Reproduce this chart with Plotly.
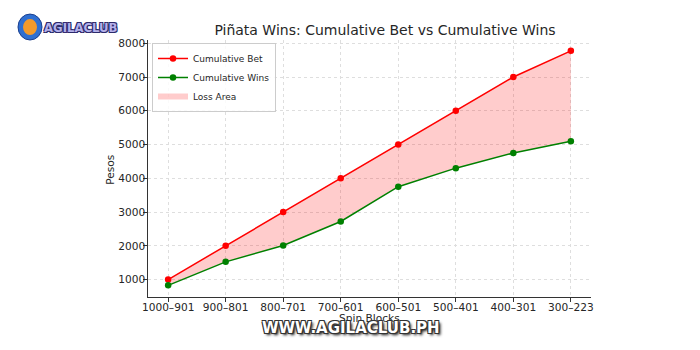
import plotly.graph_objects as go

categories = ["1000–901", "900–801", "800–701", "700–601", "600–501", "500–401", "400–301", "300–223"]
cumulative_bet = [1000, 2000, 3000, 4000, 5000, 6000, 7000, 7775]
cumulative_wins = [830, 1525, 2010, 2720, 3750, 4300, 4750, 5100]
y_ticks = [1000, 2000, 3000, 4000, 5000, 6000, 7000, 8000]

FONT = "DejaVu Sans"
TXT = "#262626"
GRID = "#dedede"

fig = go.Figure()

# Loss area: fill between wins and bet
fig.add_trace(go.Scatter(x=categories, y=cumulative_wins, mode="lines",
                         line=dict(width=0, color="rgba(0,0,0,0)"),
                         showlegend=False, hoverinfo="skip"))
fig.add_trace(go.Scatter(x=categories, y=cumulative_bet, mode="none", fill="tonexty",
                         fillcolor="rgba(255,0,0,0.2)", name="Loss Area", legendrank=3))

fig.add_trace(go.Scatter(x=categories, y=cumulative_bet, mode="lines+markers", name="Cumulative Bet",
                         line=dict(color="red", width=1.5), marker=dict(color="red", size=6.5),
                         legendrank=1))
fig.add_trace(go.Scatter(x=categories, y=cumulative_wins, mode="lines+markers", name="Cumulative Wins",
                         line=dict(color="green", width=1.5), marker=dict(color="green", size=6.5),
                         legendrank=2))

L, R, T, B = 148, 109, 40, 52.5
pw = 700 - L - R
ph = 350 - T - B

def px_x(x):
    return (x - L) / pw

def px_y(y):
    return 1 - (y - T) / ph

fig.update_layout(
    width=700, height=350,
    margin=dict(l=L, r=R, t=T, b=B, autoexpand=False),
    paper_bgcolor="white", plot_bgcolor="white",
    font=dict(family=FONT, color=TXT, size=10.6),
    title=dict(text="Piñata Wins: Cumulative Bet vs Cumulative Wins",
               font=dict(family=FONT, size=14, color=TXT),
               x=385 / 700, xanchor="center", y=1 - 30 / 350, yanchor="middle"),
    showlegend=True,
    legend=dict(x=px_x(152), y=px_y(43), xanchor="left", yanchor="top", traceorder="normal",
                bgcolor="rgba(255,255,255,0.85)", bordercolor="#cccccc", borderwidth=1,
                font=dict(family=FONT, size=9, color=TXT), tracegroupgap=0,
                itemwidth=30),
    xaxis=dict(type="category", range=[-0.35, 7.35], showline=True, linecolor="#333333", linewidth=1.2,
               ticks="outside", ticklen=3.5, tickcolor="#333333", tickwidth=1,
               showgrid=True, gridcolor=GRID, griddash="dot", gridwidth=0.8,
               tickfont=dict(family=FONT, size=10.6, color=TXT), ticklabelstandoff=-3,
               zeroline=False, mirror=False),
    yaxis=dict(range=[484, 8096], tickvals=y_ticks, showline=True, linecolor="#333333", linewidth=1.2,
               ticks="outside", ticklen=3.5, tickcolor="#333333", tickwidth=1,
               showgrid=True, gridcolor=GRID, griddash="dot", gridwidth=0.8,
               tickfont=dict(family=FONT, size=10.6, color=TXT), ticklabelstandoff=-4,
               zeroline=False, mirror=False),
)

# Axis titles
fig.add_annotation(text="Spin Blocks", xref="paper", yref="paper", x=px_x(369.5), y=px_y(319),
                   xanchor="center", yanchor="middle", showarrow=False,
                   font=dict(family=FONT, size=10.6, color=TXT))
fig.add_annotation(text="Pesos", xref="paper", yref="paper", x=px_x(110), y=px_y(170),
                   xanchor="center", yanchor="middle", showarrow=False, textangle=-90,
                   font=dict(family=FONT, size=10.6, color=TXT))

# Logo icon (approximation)
fig.add_shape(type="circle", xref="paper", yref="paper",
              x0=px_x(18), x1=px_x(42), y0=px_y(40), y1=px_y(14),
              fillcolor="#2f6fd1", line=dict(color="#1b3f8f", width=1))
fig.add_shape(type="circle", xref="paper", yref="paper",
              x0=px_x(23), x1=px_x(37), y0=px_y(35), y1=px_y(19),
              fillcolor="#f39a2b", line=dict(color="#f39a2b", width=0))
fig.add_annotation(text="<b>AGILACLUB</b>", xref="paper", yref="paper",
                   x=px_x(81), y=px_y(27), xanchor="center", yanchor="middle", showarrow=False,
                   font=dict(family="DejaVu Sans Condensed, DejaVu Sans", size=13, color="#b3b0ea",
                             shadow="1px 1px 0 #2c2a6b, -1px -1px 0 #2c2a6b, 1px -1px 0 #2c2a6b, -1px 1px 0 #2c2a6b"))

# Watermark
fig.add_annotation(text="<b>WWW.AGILACLUB.PH</b>", xref="paper", yref="paper",
                   x=px_x(351), y=px_y(329), xanchor="center", yanchor="middle", showarrow=False,
                   font=dict(family=FONT, size=15, color="white",
                             shadow="1px 1px 0 #333, -1px -1px 0 #333, 1px -1px 0 #333, -1px 1px 0 #333, 2px 2px 3px #000"))

fig.write_html("out.html")
